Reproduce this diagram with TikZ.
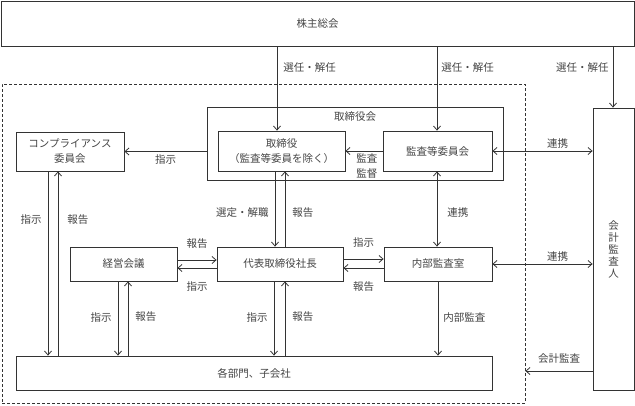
\documentclass[tikz,border=0pt]{standalone}
\usepackage{fontspec}
\newfontfamily\jp{Noto Sans CJK JP}
\usepackage{xcolor}
\definecolor{Line Gray}{HTML}{333333}
\definecolor{Text Gray}{HTML}{444444}
\colorlet{cLine}{Line Gray}
\colorlet{cText}{Text Gray}
\usepackage{tikz}
\usetikzlibrary{calc, positioning, arrows.meta}
\tikzset{
	line width = .8pt,
	>={Straight Barb[length=4pt, width=7pt]},
	font = \jp\fontsize{10.5}{15}\selectfont,
	box/.style={
		draw=cLine,
		rectangle,
		line width=.8pt,
		inner sep=0pt,
		align=center,
		text=cText
	},
	dashbox/.style={
		draw=cLine,
		rectangle,
		line width=.8pt,
		dash pattern=on 3pt off 2pt
	},
	lbl/.style={
		inner sep=1pt,
		text=cText
	},
	edge/.style={
		->,
		draw=cLine,
		line width=.8pt
	},
	dedge/.style={
		<->,
		draw=cLine,
		line width=.8pt
	}
}

\begin{document}
\begin{tikzpicture}[x=1pt, y=-1pt]
		\useasboundingbox (0,0) rectangle (635,405);

		\node[dashbox, minimum width=523, minimum height=319] (group) at (263.5,243.5) {};

		\node[box, minimum width=633, minimum height=45] (kabu) at (317.5,23.5) {株主総会};
		\node[box, minimum width=296, minimum height=73] (board) at (355,143.5) {};
		\node[lbl] (boardname) at (355,117) {取締役会};
		\node[box, minimum width=127, minimum height=40] (tori) at (281.5,151) {取締役\\（監査等委員を除く）};
		\node[box, minimum width=109, minimum height=40] (kansa) at (437.5,151) {監査等委員会};
		\node[box, minimum width=108, minimum height=39] (comp) at (70,151.5) {コンプライアンス\\委員会};
		\node[box, minimum width=107, minimum height=34] (keiei) at (123.5,264) {経営会議};
		\node[box, minimum width=126, minimum height=34] (daihyo) at (280,264) {代表取締役社長};
		\node[box, minimum width=108, minimum height=34] (naibu) at (438,264) {内部監査室};
		\node[box, minimum width=476, minimum height=34] (bumon) at (254,373) {各部門、子会社};
		\node[box, minimum width=41, minimum height=282, font=\jp\fontsize{10.5}{12}\selectfont] (kaikei) at (613.5,249) {会\\計\\監\\査\\人};

		% from the shareholders' meeting
		\draw[edge] ([xshift=-4.5pt]tori.north |- kabu.south) to node[lbl, right=5pt, pos=.25] {選任・解任} ([xshift=-4.5pt]tori.north);
		\draw[edge] ([xshift=-.5pt]kansa.north |- kabu.south) to node[lbl, right=3pt, pos=.25] {選任・解任} ([xshift=-.5pt]kansa.north);
		\draw[edge] ([xshift=-.5pt]kaikei.north |- kabu.south) to node[lbl, left=3pt, pos=.34] {選任・解任} ([xshift=-.5pt]kaikei.north);

		% board of directors
		\draw[edge] (board.west |- comp.east) to node[lbl, below=2pt] {指示} (comp.east);
		\draw[edge] (kansa.west) to node[lbl, below=1pt, pos=.42, align=center] {監査\\監督} (tori.east);
		\draw[dedge] (kansa.east) to node[lbl, above=1pt, pos=.65] {連携} (kansa.east -| kaikei.west);

		\draw[edge] ([xshift=-22pt]comp.south) to node[lbl, left=5pt, pos=.26] {指示} ([xshift=-22pt]comp.south |- bumon.north);
		\draw[edge] ([xshift=-12pt]comp.south |- bumon.north) to node[lbl, right=8pt, pos=.74] {報告} ([xshift=-12pt]comp.south);

		\draw[edge] ([xshift=-6.5pt]tori.south) to node[lbl, left=5pt, pos=.55] {選定・解職} ([xshift=-6.5pt]tori.south |- daihyo.north);
		\draw[edge] ([xshift=3.5pt]tori.south |- daihyo.north) to node[lbl, right=6pt, pos=.45] {報告} ([xshift=3.5pt]tori.south);
		\draw[dedge] ([xshift=-.5pt]kansa.south) to node[lbl, right=9pt, pos=.55] {連携} ([xshift=-.5pt]kansa.south |- naibu.north);

		% president
		\draw[edge] ([yshift=4pt]keiei.east) to node[lbl, above=10pt] {報告} ([yshift=4pt]keiei.east -| daihyo.west);
		\draw[edge] ([yshift=-4pt]daihyo.west) to node[lbl, below=12pt] {指示} ([yshift=-4pt]daihyo.west -| keiei.east);
		\draw[edge] ([yshift=5pt]daihyo.east) to node[lbl, above=10pt] {指示} ([yshift=5pt]daihyo.east -| naibu.west);
		\draw[edge] ([yshift=-4pt]naibu.west) to node[lbl, below=12pt] {報告} ([yshift=-4pt]naibu.west -| daihyo.east);
		\draw[dedge] (naibu.east) to node[lbl, above=1pt, pos=.65] {連携} (naibu.east -| kaikei.west);

		% down to the departments
		\draw[edge] ([xshift=-5.5pt]keiei.south) to node[lbl, left=5pt, pos=.48] {指示} ([xshift=-5.5pt]keiei.south |- bumon.north);
		\draw[edge] ([xshift=4.5pt]keiei.south |- bumon.north) to node[lbl, right=6pt, pos=.52] {報告} ([xshift=4.5pt]keiei.south);
		\draw[edge] ([xshift=-6pt]daihyo.south) to node[lbl, left=5pt, pos=.48] {指示} ([xshift=-6pt]daihyo.south |- bumon.north);
		\draw[edge] ([xshift=5pt]daihyo.south |- bumon.north) to node[lbl, right=6pt, pos=.52] {報告} ([xshift=5pt]daihyo.south);
		\draw[edge] (naibu.south) to node[lbl, right=4pt, pos=.48] {内部監査} (naibu.south |- bumon.north);

		\draw[edge] ([yshift=2pt]bumon.east -| kaikei.west) to node[lbl, above=6pt] {会計監査} ([yshift=2pt]bumon.east -| group.east);
	\end{tikzpicture}
\end{document}
